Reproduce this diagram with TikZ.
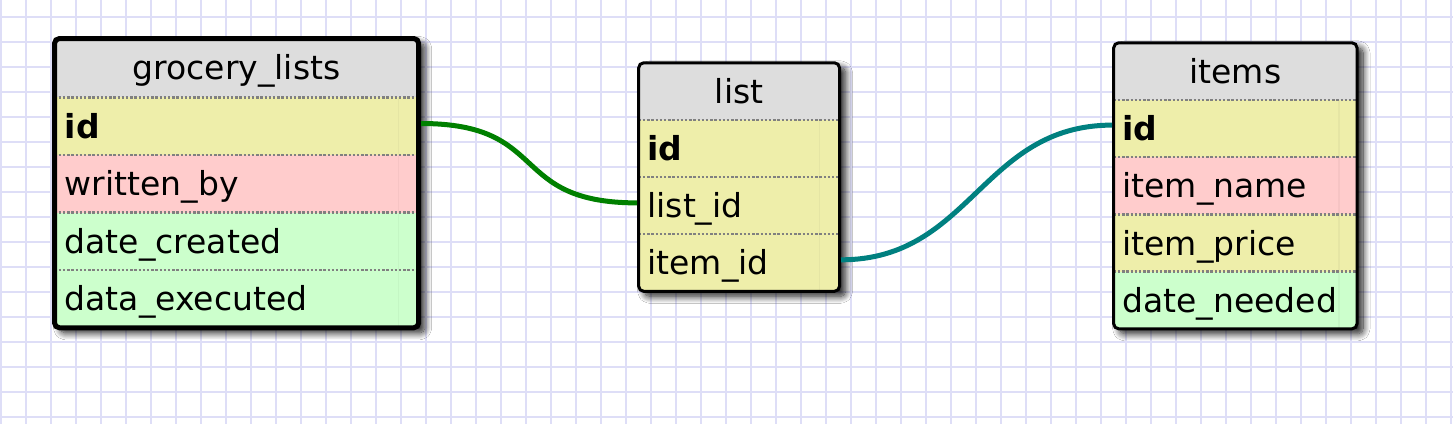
\documentclass[tikz,border=0pt]{standalone}
\usepackage{fontspec}
\setmainfont{DejaVu Sans}
\usetikzlibrary{shadows.blur}
\definecolor{gridc}{RGB}{222,222,247}
\definecolor{hdr}{RGB}{221,221,221}
\definecolor{yel}{RGB}{238,238,170}
\definecolor{pnk}{RGB}{255,204,204}
\definecolor{grn}{RGB}{204,255,204}
\definecolor{sepc}{RGB}{128,128,128}
\definecolor{linkg}{RGB}{0,128,0}
\definecolor{linkt}{RGB}{0,128,128}
\tikzset{
  cell/.style={rectangle, anchor=north west, inner ysep=0pt, outer sep=0pt,
    text height=24pt, text depth=0pt, font=\fontsize{33}{36}\selectfont, align=left},
  hcell/.style={cell, fill=hdr, align=center},
  sepline/.style={draw=sepc, line width=2.4pt, dash pattern=on 2.4pt off 1.8pt},
  faint/.style={draw=black, draw opacity=0.035, line width=1.5pt},
  tshadow/.style={blur shadow={shadow xshift=6pt, shadow yshift=-5pt,
    shadow blur radius=7pt, shadow blur steps=14, shadow opacity=90}},
  link/.style={line width=5pt},
}
\begin{document}
\begin{tikzpicture}[x=1pt,y=-1pt]
\useasboundingbox (0,0) rectangle (1453,424);
\fill[white] (0,0) rectangle (1453,424);
% grid
\foreach \i in {0,...,58} \draw[gridc, line width=2pt] (0.5+25*\i,0) -- (0.5+25*\i,424);
\foreach \j in {0,...,16} \draw[gridc, line width=2pt] (0,16.5+25.05*\j) -- (1453,16.5+25.05*\j);

% ---------------- table 1: grocery_lists
\path[tshadow, rounded corners=5pt] (54.5,38.5) rectangle (418.7,327.8);
\begin{scope}
\clip[rounded corners=5pt] (54.5,38.5) rectangle (418.7,327.8);
\node[hcell, minimum height=58.8pt, inner xsep=10.25pt, text width=343.7pt] (t1h) at (54.5,38.5) {grocery\_lists};
\node[cell, fill=yel, minimum height=57.625pt, inner xsep=10.25pt, text width=343.7pt] (t1id) at (54.5,97.3) {\textbf{id}};
\node[cell, fill=pnk, minimum height=57.625pt, inner xsep=10.25pt, text width=343.7pt] (t1wb) at (54.5,154.925) {written\_by};
\node[cell, fill=grn, minimum height=57.625pt, inner xsep=10.25pt, text width=343.7pt] (t1dc) at (54.5,212.55) {date\_created};
\node[cell, fill=grn, minimum height=57.625pt, inner xsep=10.25pt, text width=343.7pt] (t1de) at (54.5,270.175) {data\_executed};
\draw[faint] (398.7,97.3) -- (398.7,327.8);
\end{scope}
\draw[sepline] (t1h.south west) -- (t1h.south east);
\draw[sepline] (t1id.south west) -- (t1id.south east);
\draw[sepline] (t1wb.south west) -- (t1wb.south east);
\draw[sepline] (t1dc.south west) -- (t1dc.south east);
\draw[line width=5pt, rounded corners=5pt] (54.5,38.5) rectangle (418.7,327.8);

% ---------------- table 2: list
\path[tshadow, rounded corners=5pt] (638.7,62.8) rectangle (839.5,291.3);
\begin{scope}
\clip[rounded corners=5pt] (638.7,62.8) rectangle (839.5,291.3);
\node[hcell, minimum height=56.9pt, inner xsep=8.8pt, text width=183.2pt] (t2h) at (638.7,62.8) {list};
\node[cell, fill=yel, minimum height=57.2pt, inner xsep=8.8pt, text width=183.2pt] (t2id) at (638.7,119.7) {\textbf{id}};
\node[cell, fill=yel, minimum height=57.2pt, inner xsep=8.8pt, text width=183.2pt] (t2lid) at (638.7,176.9) {list\_id};
\node[cell, fill=yel, minimum height=57.2pt, inner xsep=8.8pt, text width=183.2pt] (t2iid) at (638.7,234.1) {item\_id};
\draw[faint] (819.5,119.7) -- (819.5,291.3);
\end{scope}
\draw[sepline] (t2h.south west) -- (t2h.south east);
\draw[sepline] (t2id.south west) -- (t2id.south east);
\draw[sepline] (t2lid.south west) -- (t2lid.south east);
\draw[line width=3pt, rounded corners=5pt] (638.7,62.8) rectangle (839.5,291.3);

% ---------------- table 3: items
\path[tshadow, rounded corners=5pt] (1113.7,42.8) rectangle (1357,328.8);
\begin{scope}
\clip[rounded corners=5pt] (1113.7,42.8) rectangle (1357,328.8);
\node[hcell, minimum height=57.2pt, inner xsep=8.8pt, text width=225.7pt] (t3h) at (1113.7,42.8) {items};
\node[cell, fill=yel, minimum height=57.2pt, inner xsep=8.8pt, text width=225.7pt] (t3id) at (1113.7,100) {\textbf{id}};
\node[cell, fill=pnk, minimum height=57.2pt, inner xsep=8.8pt, text width=225.7pt] (t3nm) at (1113.7,157.2) {item\_name};
\node[cell, fill=yel, minimum height=57.2pt, inner xsep=8.8pt, text width=225.7pt] (t3pr) at (1113.7,214.4) {item\_price};
\node[cell, fill=grn, minimum height=57.2pt, inner xsep=8.8pt, text width=225.7pt] (t3dn) at (1113.7,271.6) {date\_needed};
\draw[faint] (1339,100) -- (1339,328.8);
\end{scope}
\draw[sepline] (t3h.south west) -- (t3h.south east);
\draw[sepline] (t3id.south west) -- (t3id.south east);
\draw[sepline] (t3nm.south west) -- (t3nm.south east);
\draw[sepline] (t3pr.south west) -- (t3pr.south east);
\draw[line width=3pt, rounded corners=5pt] (1113.7,42.8) rectangle (1357,328.8);

% ---------------- connectors
\draw[link, linkg] ([xshift=2.5pt,yshift=2.6pt]t1id.east) .. controls +(130,0) and +(-130,0) .. ([xshift=-1.5pt,yshift=2.6pt]t2lid.west);
\draw[link, linkt] ([xshift=1.5pt,yshift=2.9pt]t2iid.east) .. controls +(130,0) and +(-130,0) .. ([xshift=-1.5pt,yshift=3.5pt]t3id.west);
\end{tikzpicture}
\end{document}
